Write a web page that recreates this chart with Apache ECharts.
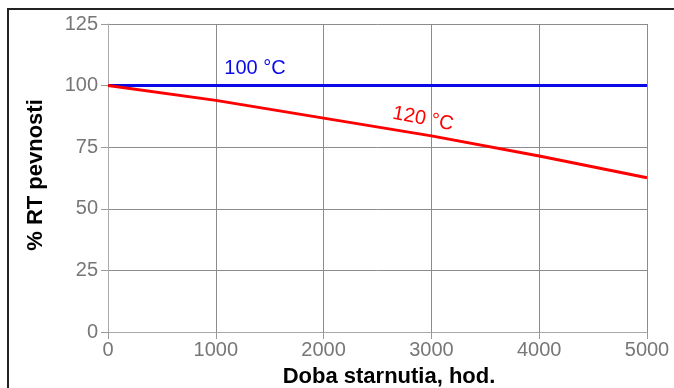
<!DOCTYPE html>
<html><head><meta charset="utf-8">
<script src="https://cdn.jsdelivr.net/npm/echarts@6/dist/echarts.min.js"></script>
<style>html,body{margin:0;padding:0;background:#fff}#c{width:674px;height:388px}</style>
</head><body><div id="c"></div>
<script>
var hours = [0, 1000, 2000, 3000, 4000, 5000];
var s100 = [100, 100, 100, 100, 100, 100];
var s120 = [100, 94, 86.8, 79.6, 71.4, 62.6];
var seriesNames = ['100 °C', '120 °C'];
var xTitle = 'Doba starnutia, hod.';
var yTitle = '% RT pevnosti';

var chart = echarts.init(document.getElementById('c'));
var font = 'Liberation Sans, Arial, sans-serif';
function pairs(xs, ys){ return xs.map(function(x,i){return [x, ys[i]];}); }
function labelPoint(coord, text, color, rot){
  return {coord: coord, symbol: 'rect', symbolSize: 1, itemStyle: {color: 'rgba(0,0,0,0)'},
    label: {show: true, formatter: text, color: color, fontSize: 20, fontFamily: font, position: 'inside', rotate: rot || 0}};
}
chart.setOption({
  animation: false,
  grid: {left: 108, right: 27, top: 24, bottom: 56},
  graphic: [
    {type: 'polyline', shape: {points: [[8, 430], [8, 9], [720, 9]]}, style: {fill: 'none', stroke: '#222', lineWidth: 2}},
    {type: 'text', x: 389, y: 377, style: {text: xTitle, fill: '#000', font: 'bold 22px ' + font, align: 'center', verticalAlign: 'middle'}},
    {type: 'text', x: 36, y: 175, rotation: Math.PI/2, style: {text: yTitle, fill: '#000', font: 'bold 22px ' + font, align: 'center', verticalAlign: 'middle'}}
  ],
  xAxis: {
    type: 'value', min: 0, max: 5000, interval: 1000,
    axisLine: {show: true, lineStyle: {color: '#aaa', width: 1}},
    axisTick: {show: true, length: 7, lineStyle: {color: '#999'}},
    axisLabel: {color: '#777', fontSize: 20, fontFamily: font, margin: 8, formatter: function(v){return String(v);}},
    splitLine: {show: true, lineStyle: {color: '#8c8c8c', width: 1}}
  },
  yAxis: {
    type: 'value', min: 0, max: 125, interval: 25,
    axisLine: {show: true, lineStyle: {color: '#aaa', width: 1}},
    axisTick: {show: true, length: 7, lineStyle: {color: '#999'}},
    axisLabel: {color: '#777', fontSize: 20, fontFamily: font, margin: 10},
    splitLine: {show: true, lineStyle: {color: '#8c8c8c', width: 1}}
  },
  series: [
    {
      name: seriesNames[0], type: 'line', data: pairs(hours, s100), showSymbol: false,
      lineStyle: {color: '#0a0ae8', width: 3}, itemStyle: {color: '#0a0ae8'},
      markPoint: {silent: true, data: [labelPoint([1364, 106.8], seriesNames[0], '#0a0ae8')]}
    },
    {
      name: seriesNames[1], type: 'line', data: pairs(hours, s120), showSymbol: false,
      lineStyle: {color: '#ff0000', width: 3}, itemStyle: {color: '#ff0000'},
      markPoint: {silent: true, data: [labelPoint([2922, 86.5], seriesNames[1], '#ff0000', -11)]}
    }
  ]
});
</script></body></html>
